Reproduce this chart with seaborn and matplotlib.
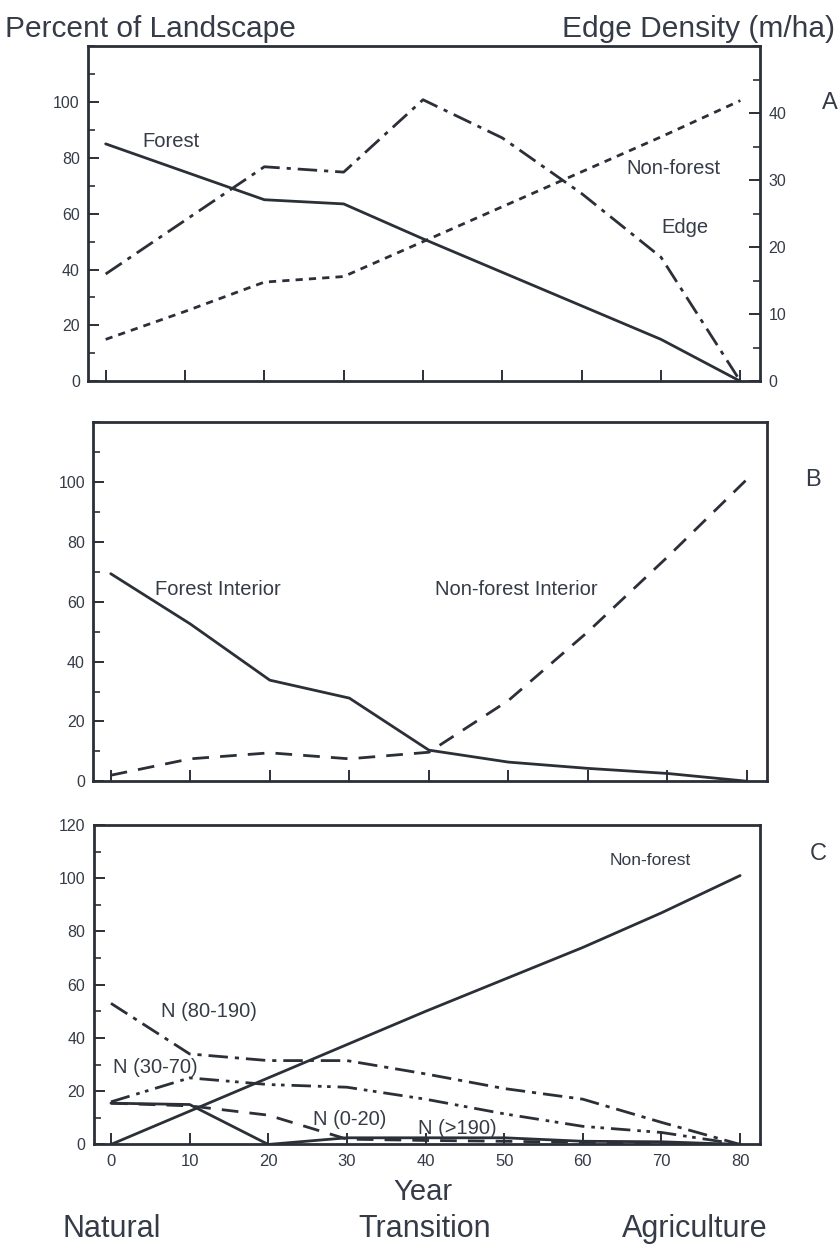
import numpy as np
import pandas as pd
import seaborn as sns
import matplotlib
matplotlib.use("Agg")
import matplotlib.pyplot as plt
from matplotlib.ticker import MultipleLocator

# ---------------- data ----------------
years = [0, 10, 20, 30, 40, 50, 60, 70, 80]

# Panel A
a_forest = [85, 75, 65, 63.5, 51, 39, 27, 15, 0]
a_nonforest = [15, 25, 35.5, 37.5, 50, 62.5, 75, 87.5, 100.5]
a_edge = [16, 24, 32, 31.2, 42, 36.3, 28, 18.5, 0]   # right axis, m/ha

# Panel B
b_forest_interior = [69.4, 52.6, 33.8, 27.8, 10.4, 6.4, 4.3, 2.6, 0]
b_nonforest_interior = [2, 7.5, 9.5, 7.5, 9.7, 27, 50, 75, 101]

# Panel C
c_nonforest = [0, 12.5, 25, 37.5, 50, 62, 74, 87, 101]
c_n80_190 = [53, 34, 31.5, 31.5, 26.5, 21, 17, 8.3, 0]
c_n30_70 = [16, 25, 22.5, 21.5, 17, 11.5, 6.8, 4.5, 0]
c_n0_20 = [15.5, 14.5, 11, 2, 1.5, 1.2, 0.8, 0.5, 0]
c_n190 = [15.5, 15, 0, 2.5, 2.5, 2.5, 1.2, 1, 0]

stage_labels = ["Natural", "Transition", "Agriculture"]

# ---------------- style ----------------
sns.set_theme(style="white")
plt.rcParams["font.family"] = ["Liberation Sans", "DejaVu Sans"]
plt.rcParams["xtick.bottom"] = True
plt.rcParams["ytick.left"] = True
INK = "#2b2f38"
TXT = "#353b47"

fig = plt.figure(figsize=(8.4, 12.46), dpi=100)
fig.patch.set_facecolor("white")

axA = fig.add_axes([0.105, 0.694, 0.800, 0.269])
axB = fig.add_axes([0.111, 0.373, 0.802, 0.288])
axC = fig.add_axes([0.1115, 0.0815, 0.793, 0.2564])

LW = 2.0
SOLID = "-"
SHORT_DASH = (0, (2.6, 2.2))
DASH_DOT = (0, (7, 2.5, 1.5, 2.5))
LONG_DASH = (0, (6, 4))
DASH_DOT_DOT = (0, (7, 2.5, 1.3, 2, 1.3, 2.5))
TICK_FS = 11.5
LAB_FS = 14.5


def line(ax, y, ls, lw=LW):
    df = pd.DataFrame({"Year": years, "v": y})
    sns.lineplot(data=df, x="Year", y="v", ax=ax, color=INK, linewidth=lw,
                 linestyle=ls, legend=False)


def style_axes(ax, xlabels=False, ymax=120, yticks=range(0, 101, 20)):
    ax.set_xlim(-2.2, 82.5)
    ax.set_ylim(0, ymax)
    ax.set_xticks(years)
    ax.set_yticks(list(yticks))
    ax.yaxis.set_minor_locator(MultipleLocator(10))
    ax.tick_params(axis="both", which="major", direction="in", length=8,
                   width=1.4, color=INK, labelsize=TICK_FS, labelcolor=TXT,
                   pad=6, bottom=True, left=True)
    ax.tick_params(axis="y", which="minor", direction="in", length=5,
                   width=1.2, color=INK, left=True)
    if not xlabels:
        ax.set_xticklabels([])
    ax.set_xlabel("")
    ax.set_ylabel("")
    for s in ax.spines.values():
        s.set_visible(True)
        s.set_color(INK)
        s.set_linewidth(2.0)
    ax.set_facecolor("white")


# ---------------- Panel A ----------------
line(axA, a_forest, SOLID)
line(axA, a_nonforest, SHORT_DASH)
style_axes(axA)
axA2 = axA.twinx()
line(axA2, a_edge, DASH_DOT)
axA2.set_ylim(0, 50)
axA2.set_yticks([0, 10, 20, 30, 40])
axA2.yaxis.set_minor_locator(MultipleLocator(5))
axA2.tick_params(axis="y", which="major", direction="in", length=8, width=1.4,
                 color=INK, labelsize=TICK_FS, labelcolor=TXT, pad=6,
                 right=True, left=False)
axA2.tick_params(axis="y", which="minor", direction="in", length=5, width=1.2,
                 color=INK, right=True, left=False)
axA2.tick_params(axis="x", bottom=False, top=False)
axA2.set_ylabel("")
for s in axA2.spines.values():
    s.set_visible(False)
axA2.grid(False)

axA.text(8.2, 86, "Forest", fontsize=LAB_FS, color=TXT, ha="center", va="center")
axA.text(71.6, 76, "Non-forest", fontsize=LAB_FS, color=TXT, ha="center", va="center")
axA.text(73, 55, "Edge", fontsize=LAB_FS, color=TXT, ha="center", va="center")

# ---------------- Panel B ----------------
line(axB, b_forest_interior, SOLID)
line(axB, b_nonforest_interior, LONG_DASH)
style_axes(axB)
axB.text(13.5, 64, "Forest Interior", fontsize=LAB_FS, color=TXT, ha="center", va="center")
axB.text(51, 64, "Non-forest Interior", fontsize=LAB_FS, color=TXT, ha="center", va="center")

# ---------------- Panel C ----------------
line(axC, c_nonforest, SOLID)
line(axC, c_n80_190, DASH_DOT)
line(axC, c_n30_70, DASH_DOT_DOT)
line(axC, c_n0_20, LONG_DASH)
line(axC, c_n190, SOLID)
style_axes(axC, xlabels=True, yticks=range(0, 121, 20))
axC.tick_params(axis="x", labelsize=12, pad=7)
axC.text(68.6, 106.8, "Non-forest", fontsize=12.5, color=TXT, ha="center", va="center")
axC.text(12.4, 50, "N (80-190)", fontsize=LAB_FS, color=TXT, ha="center", va="center")
axC.text(5.7, 29, "N (30-70)", fontsize=LAB_FS, color=TXT, ha="center", va="center")
axC.text(30.4, 9.4, "N (0-20)", fontsize=LAB_FS, color=TXT, ha="center", va="center")
axC.text(44, 5.9, "N (>190)", fontsize=LAB_FS, color=TXT, ha="center", va="center")

# ---------------- figure-level text ----------------
fig.text(0.006, 0.977, "Percent of Landscape", fontsize=21.5, color=TXT,
         ha="left", va="center")
fig.text(0.994, 0.977, "Edge Density (m/ha)", fontsize=21.5, color=TXT,
         ha="right", va="center")
fig.text(0.988, 0.917, "A", fontsize=17, color=TXT, ha="center", va="center")
fig.text(0.968, 0.615, "B", fontsize=17, color=TXT, ha="center", va="center")
fig.text(0.974, 0.315, "C", fontsize=17, color=TXT, ha="center", va="center")
fig.text(0.503, 0.043, "Year", fontsize=21, color=TXT, ha="center", va="center")
for xpos, lab in zip([0.133, 0.506, 0.827], stage_labels):
    fig.text(xpos, 0.014, lab, fontsize=22, color=TXT, ha="center", va="center")

fig.savefig("out.png", dpi=100, facecolor="white")
